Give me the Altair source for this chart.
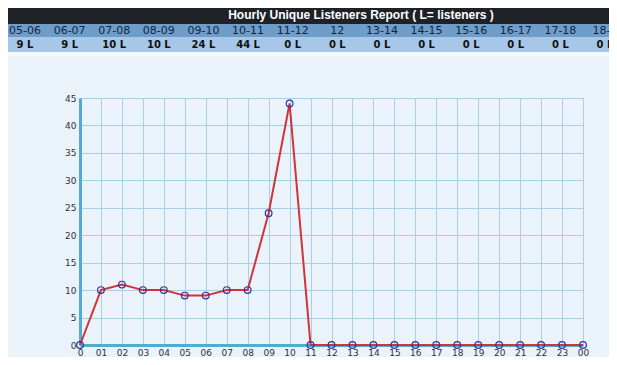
import altair as alt
import pandas as pd

hours = ["0", "01", "02", "03", "04", "05", "06", "07", "08", "09", "10", "11",
         "12", "13", "14", "15", "16", "17", "18", "19", "20", "21", "22", "23", "00"]
listeners = [0, 10, 11, 10, 10, 9, 9, 10, 10, 24, 44, 0,
             0, 0, 0, 0, 0, 0, 0, 0, 0, 0, 0, 0, 0]

table_hours = ["05-06", "06-07", "07-08", "08-09", "09-10", "10-11", "11-12",
               "12", "13-14", "14-15", "15-16", "16-17", "17-18", "18-1"]
table_values = ["9 L", "9 L", "10 L", "10 L", "24 L", "44 L", "0 L",
                "0 L", "0 L", "0 L", "0 L", "0 L", "0 L", "0 L"]
title_text = "Hourly Unique Listeners Report ( L= listeners )"

df = pd.DataFrame({"hour": hours, "listeners": listeners})
tbl = pd.DataFrame({"i": list(range(len(table_hours))), "h": table_hours, "v": table_values})
one = pd.DataFrame({"t": [title_text]})

W, H = 503, 247
PL, PT, PR, PB = 72, 90, 26, 12

x_enc = alt.X("hour:O", sort=hours, title=None,
              scale=alt.Scale(type="point", padding=0),
              axis=alt.Axis(labelAngle=0, grid=True, gridColor="#a9cfe6", gridWidth=1,
                            domainColor="#52abd0", domainWidth=3, ticks=False,
                            labelFont="DejaVu Sans", labelFontSize=9, labelColor="#333",
                            labelPadding=3))
y_enc = alt.Y("listeners:Q", title=None,
              scale=alt.Scale(domain=[0, 45], nice=False),
              axis=alt.Axis(values=list(range(0, 46, 5)), grid=True, gridColor="#a9cfe6",
                            gridWidth=1, domainColor="#52abd0", domainWidth=3, ticks=False,
                            labelFont="DejaVu Sans", labelFontSize=9, labelColor="#333",
                            labelPadding=4))

line = alt.Chart(df).mark_line(
    color="#d0333a", strokeWidth=2,
    point=alt.OverlayMarkDef(shape="circle", size=45, filled=False, color="#333399",
                             strokeWidth=1.2, opacity=1),
).encode(x=x_enc, y=y_enc)

rect_src = alt.Chart(one)
dark = rect_src.mark_rect(color="#1e2227").encode(
    x=alt.value(-PL), x2=alt.value(W + PR), y=alt.value(-PT), y2=alt.value(-74))
row1 = rect_src.mark_rect(color="#6e9dca").encode(
    x=alt.value(-PL), x2=alt.value(W + PR), y=alt.value(-74), y2=alt.value(-61))
row2 = rect_src.mark_rect(color="#a6c7e7").encode(
    x=alt.value(-PL), x2=alt.value(W + PR), y=alt.value(-61), y2=alt.value(-46))
sep = rect_src.mark_rect(color="#f5f9fd").encode(
    x=alt.value(-PL), x2=alt.value(W + PR), y=alt.value(-46), y2=alt.value(-42))
title = rect_src.mark_text(color="white", font="Liberation Sans", fontWeight="bold",
                           fontSize=12, align="center", baseline="middle").encode(
    x=alt.value(281), y=alt.value(-83), text="t:N")

col_x = alt.X("i:Q", scale=alt.Scale(domain=[0, 13], range=[-55, 525]), axis=None)
thead = alt.Chart(tbl).mark_text(font="DejaVu Sans", fontSize=11, color="#14243c",
                                  align="center", baseline="middle").encode(
    x=col_x, y=alt.value(-67), text="h:N")
tval = alt.Chart(tbl).mark_text(font="DejaVu Sans", fontSize=10, fontWeight="bold",
                                 color="#111", align="center", baseline="middle").encode(
    x=col_x, y=alt.value(-53), text="v:N")

chart = alt.layer(dark, row1, row2, sep, title, thead, tval, line).resolve_scale(
    x="independent").properties(
    width=W, height=H, background="#eaf2fa",
    padding={"left": PL, "top": PT, "right": PR, "bottom": PB},
    autosize=alt.AutoSizeParams(type="none"),
).configure_view(stroke=None)

chart.save("out.html", embed_options={"renderer": "svg", "actions": False})
